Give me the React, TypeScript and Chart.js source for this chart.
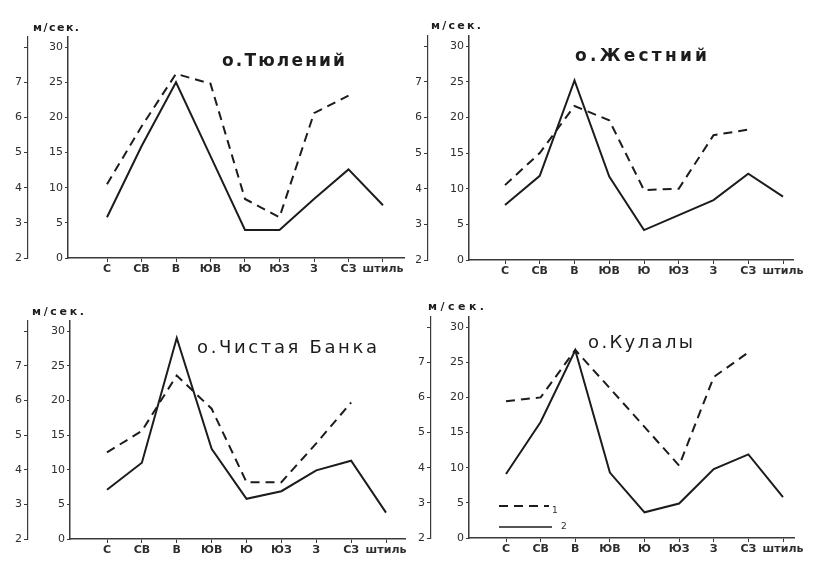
import React, { useEffect, useRef } from 'react';
import { Chart, registerables } from 'chart.js';

Chart.register(...registerables);

// ---- data ----
const directions = ['С', 'СВ', 'В', 'ЮВ', 'Ю', 'ЮЗ', 'З', 'СЗ', 'штиль'];
const speedTicks = [2, 3, 4, 5, 6, 7, 8]; // m/s (outer axis)
const freqTicks = [0, 5, 10, 15, 20, 25, 30]; // % (inner axis)
const unitLabel = 'м/сек.';
const legendLabels = ['1', '2'];

// dashed line (1): wind speed, m/s (no value for calm)
const tyuleniySpeed = [4.1, 5.74, 7.24, 6.96, 3.68, 3.16, 6.12, 6.62];
// solid line (2): frequency, %
const tyuleniyFreq = [5.8, 15.9, 25, 14.5, 4, 4, 8.4, 12.6, 7.5];

const zhestniySpeed = [4.1, 5.0, 6.32, 5.92, 3.96, 4.0, 5.5, 5.66];
const zhestniyFreq = [7.7, 11.8, 25.2, 11.7, 4.2, 6.3, 8.4, 12.1, 8.9];

const chistayaSpeed = [4.5, 5.12, 6.72, 5.76, 3.64, 3.64, 4.76, 5.94];
const chistayaFreq = [7.1, 11, 29, 13, 5.8, 6.9, 9.9, 11.3, 3.8];

const kulalySpeed = [5.89, 6.0, 7.35, 6.26, 5.16, 4.06, 6.58, 7.28];
const kulalyFreq = [9.1, 16.5, 26.7, 9.3, 3.65, 4.9, 9.8, 11.9, 5.8];

const titles = ['о.Тюлений', 'о.Жестний', 'о.Чистая Банка', 'о.Кулалы'];

// ---- layout (pixels, per panel canvas 416x281) ----
const W = 416;
const H = 281;
const INK = '#1c1c1c';
const AXIS = '#3a3a3a';
const LABEL = '#2e2e2e';

type Panel = {
  title: string;
  speed: number[];
  freq: number[];
  pos: [number, number];
  outer: number;
  left: number;
  right: number;
  y0: number;
  ppu: number;
  cFirst: number;
  cLast: number;
  title_: { x: number; w: number; y: number; bold: boolean; size: number };
  unit: { x: number; w: number; y: number };
  legend?: boolean;
};

const panels: Panel[] = [
  {
    title: titles[0], speed: tyuleniySpeed, freq: tyuleniyFreq, pos: [0, 0],
    outer: 28, left: 68, right: 404, y0: 258, ppu: 7.03, cFirst: 107, cLast: 383,
    title_: { x: 222, w: 123, y: 62, bold: true, size: 17 }, unit: { x: 33, w: 46, y: 28 },
  },
  {
    title: titles[1], speed: zhestniySpeed, freq: zhestniyFreq, pos: [416, 0],
    outer: 12, left: 53, right: 377, y0: 260, ppu: 7.13, cFirst: 89, cLast: 367,
    title_: { x: 159, w: 132, y: 57, bold: true, size: 17 }, unit: { x: 15, w: 50, y: 26 },
  },
  {
    title: titles[2], speed: chistayaSpeed, freq: chistayaFreq, pos: [0, 281],
    outer: 28, left: 70, right: 405, y0: 258, ppu: 6.93, cFirst: 107, cLast: 386,
    title_: { x: 197, w: 180, y: 67, bold: false, size: 18 }, unit: { x: 32, w: 52, y: 31 },
  },
  {
    title: titles[3], speed: kulalySpeed, freq: kulalyFreq, pos: [416, 281],
    outer: 15, left: 53, right: 378, y0: 257, ppu: 7.03, cFirst: 90, cLast: 367,
    title_: { x: 172, w: 105, y: 62, bold: false, size: 18 }, unit: { x: 12, w: 56, y: 26 },
    legend: true,
  },
];

function drawSpaced(ctx: CanvasRenderingContext2D, text: string, x: number, y: number, font: string, width: number) {
  ctx.save();
  ctx.font = font;
  (ctx as any).letterSpacing = '0px';
  const natural = ctx.measureText(text).width;
  const ls = Math.max(0, (width - natural) / Math.max(1, text.length - 1));
  (ctx as any).letterSpacing = ls + 'px';
  ctx.fillStyle = INK;
  ctx.textAlign = 'left';
  ctx.textBaseline = 'middle';
  ctx.fillText(text, x, y);
  ctx.restore();
}

function PanelChart({ p }: { p: Panel }) {
  const ref = useRef<HTMLCanvasElement | null>(null);
  useEffect(() => {
    if (!ref.current) return;
    const yMax = 31.5;
    const top = p.y0 - yMax * p.ppu;
    const dx = (p.cLast - p.cFirst) / (directions.length - 1);
    const xMin = -(p.cFirst - p.left) / dx;
    const xMax = directions.length - 1 + (p.right - p.cLast) / dx;
    const tickFont = { family: '"DejaVu Sans", sans-serif', size: 11 };
    const xFont = { family: '"DejaVu Sans", sans-serif', size: 11, weight: 'bold' as const };

    const annot = {
      id: 'annot',
      afterDraw(chart: any) {
        const ctx: CanvasRenderingContext2D = chart.ctx;
        drawSpaced(ctx, p.title, p.title_.x, p.title_.y,
          `${p.title_.bold ? 'bold ' : ''}${p.title_.size}px "DejaVu Sans", sans-serif`, p.title_.w);
        drawSpaced(ctx, unitLabel, p.unit.x, p.unit.y, 'bold 11px "DejaVu Sans", sans-serif', p.unit.w);
        if (p.legend) {
          ctx.save();
          ctx.strokeStyle = INK;
          ctx.lineWidth = 2;
          ctx.setLineDash([9, 6]);
          ctx.beginPath();
          ctx.moveTo(83, 225);
          ctx.lineTo(133, 225);
          ctx.stroke();
          ctx.setLineDash([]);
          ctx.lineWidth = 1.5;
          ctx.beginPath();
          ctx.moveTo(83, 246);
          ctx.lineTo(136, 246);
          ctx.stroke();
          ctx.fillStyle = LABEL;
          ctx.font = '9px "DejaVu Sans", sans-serif';
          ctx.textBaseline = 'middle';
          ctx.fillText(legendLabels[0], 136, 230);
          ctx.fillText(legendLabels[1], 145, 246);
          ctx.restore();
        }
      },
    };

    const chart = new Chart(ref.current, {
      type: 'line',
      data: {
        datasets: [
          {
            label: legendLabels[0],
            data: p.speed.map((v, i) => ({ x: i, y: v })),
            yAxisID: 'y2',
            borderColor: INK,
            borderWidth: 2,
            borderDash: [9, 6],
            pointRadius: 0,
            fill: false,
            tension: 0,
          },
          {
            label: legendLabels[1],
            data: p.freq.map((v, i) => ({ x: i, y: v })),
            yAxisID: 'y',
            borderColor: INK,
            borderWidth: 2,
            pointRadius: 0,
            fill: false,
            tension: 0,
          },
        ],
      },
      options: {
        animation: false,
        responsive: false,
        devicePixelRatio: 1,
        events: [],
        layout: { padding: { left: 0, top: top, right: W - p.right, bottom: 0 } },
        plugins: { legend: { display: false }, tooltip: { enabled: false }, title: { display: false } },
        scales: {
          x: {
            type: 'linear',
            position: 'bottom',
            min: xMin,
            max: xMax,
            afterBuildTicks: (s: any) => { s.ticks = directions.map((_, i) => ({ value: i })); },
            afterFit: (s: any) => { s.height = H - p.y0; },
            ticks: {
              callback: (v: any) => directions[v] ?? '',
              autoSkip: false,
              maxRotation: 0,
              font: xFont,
              color: LABEL,
              padding: 1,
            },
            grid: { display: true, drawOnChartArea: false, drawTicks: true, tickLength: 4, color: AXIS, lineWidth: 1 },
            border: { display: true, color: AXIS, width: 1.5 },
          },
          y: {
            type: 'linear',
            position: 'left',
            weight: 0,
            min: 0,
            max: yMax,
            afterBuildTicks: (s: any) => { s.ticks = freqTicks.map((v) => ({ value: v })); },
            afterFit: (s: any) => { s.width = p.left - p.outer; },
            ticks: { font: tickFont, color: LABEL, padding: 2 },
            grid: { display: true, drawOnChartArea: false, drawTicks: true, tickLength: 3, color: AXIS },
            border: { display: true, color: AXIS, width: 1.5 },
          },
          y2: {
            type: 'linear',
            position: 'left',
            weight: 1,
            min: 2,
            max: 2 + yMax / 5,
            afterBuildTicks: (s: any) => { s.ticks = speedTicks.map((v) => ({ value: v })); },
            afterFit: (s: any) => { s.width = p.outer; },
            ticks: {
              font: tickFont,
              color: LABEL,
              padding: 2,
              callback: (v: any) => (v === speedTicks[speedTicks.length - 1] ? '' : String(v)),
            },
            grid: { display: true, drawOnChartArea: false, drawTicks: true, tickLength: 4, color: AXIS },
            border: { display: true, color: AXIS, width: 1.2 },
          },
        },
      },
      plugins: [annot],
    } as any);
    return () => chart.destroy();
  }, [p]);

  return (
    <canvas
      ref={ref}
      width={W}
      height={H}
      style={{ position: 'absolute', left: p.pos[0], top: p.pos[1], width: W, height: H }}
    />
  );
}

export default function App() {
  return (
    <div style={{ position: 'absolute', left: 0, top: 0, width: 832, height: 562, background: '#fff' }}>
      {panels.map((p, i) => (
        <PanelChart key={i} p={p} />
      ))}
    </div>
  );
}
